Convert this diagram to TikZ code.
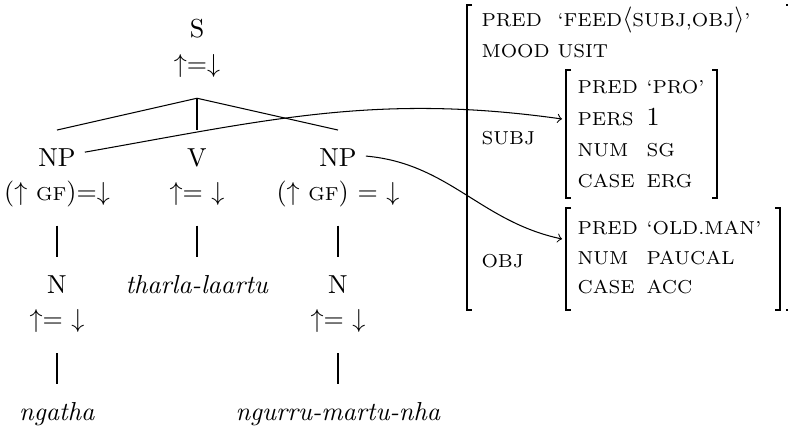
\documentclass[tikz,border=0pt]{standalone}
\usepackage{amsmath,amssymb}
\usepackage{tikz}

% small capitals for feature names and values
\newcommand{\fsc}[1]{{\fontsize{7.2pt}{9pt}\selectfont #1}}

\begin{document}
\begin{tikzpicture}[x=0.0135cm,y=-0.0135cm,>=to,
  tn/.style={anchor=base,inner xsep=3.33pt,inner ysep=7pt,text height=7pt,text depth=2.5pt},
  av/.style={anchor=base west,inner sep=0pt},
  brk/.style={line width=1pt}]
  \useasboundingbox (0,0) rectangle (788,433);
  \clip (0,0) rectangle (788,433);
  % Tree: root
  \node[tn] (s) at (197,38) {S};
  \node[tn] (sann) at (197,73) {$\uparrow$=$\downarrow$};
  \coordinate (br) at (sann.south);
  % Daughters of S
  \node[tn] (np1) at (57,167) {NP};
  \node[tn] (np1ann) at (57,200.5) {($\uparrow$ \fsc{GF})=$\downarrow$};
  \node[tn] (v) at (197,167) {V};
  \node[tn] (vann) at (197,200.5) {$\uparrow$= $\downarrow$};
  \node[tn] (np2) at (338,167) {NP};
  \node[tn] (np2ann) at (338,200.5) {($\uparrow$ \fsc{GF}) = $\downarrow$};
  \draw (br) -- (np1.north);
  \draw (br) -- (v.north);
  \draw (br) -- (np2.north);
  % Lower levels
  \node[tn] (n1) at (57,294) {N};
  \node[tn] (n1ann) at (57,328) {$\uparrow$= $\downarrow$};
  \node[tn] (w2) at (197,294) {\textit{tharla-laartu}};
  \node[tn] (n2) at (338,294) {N};
  \node[tn] (n2ann) at (338,328) {$\uparrow$= $\downarrow$};
  \node[tn] (w1) at (57,421) {\textit{ngatha}};
  \node[tn] (w3) at (338,421) {\textit{ngurru-martu-nha}};
  \draw (np1ann.south) -- (n1.north);
  \draw (vann.south) -- (w2.north);
  \draw (np2ann.south) -- (n2.north);
  \draw (n1ann.south) -- (w1.north);
  \draw (n2ann.south) -- (w3.north);
  % F-structure: outer matrix
  \draw[brk] (472,5) -- (467,5) -- (467,310) -- (472,310);
  \draw[brk] (786,5) -- (791,5) -- (791,310) -- (786,310);
  \node[av] (fpred) at (481,27) {\fsc{PRED}};
  \node[av] (fpredv) at (557,27) {\fsc{‘FEED}$\langle$\fsc{SUBJ,OBJ}$\rangle$\fsc{’}};
  \node[av] (fmood) at (481,58) {\fsc{MOOD}};
  \node[av] (fmoodv) at (557,58) {\fsc{USIT}};
  \node[av] (fsubj) at (481,145) {\fsc{SUBJ}};
  \node[av] (fobj) at (481,268) {\fsc{OBJ}};
  % SUBJ value
  \draw[brk] (571,70) -- (566,70) -- (566,198) -- (571,198);
  \draw[brk] (712,70) -- (717,70) -- (717,198) -- (712,198);
  \node[av] (spred) at (577,94) {\fsc{PRED}};
  \node[av] (spredv) at (646,94) {\fsc{‘PRO’}};
  \node[av] (spers) at (577,126) {\fsc{PERS}};
  \node[av] (spersv) at (646,126) {1};
  \node[av] (snum) at (577,157) {\fsc{NUM}};
  \node[av] (snumv) at (646,157) {\fsc{SG}};
  \node[av] (scase) at (577,188) {\fsc{CASE}};
  \node[av] (scasev) at (646,188) {\fsc{ERG}};
  \coordinate (subjin) at (562,119);
  % OBJ value
  \draw[brk] (571,208) -- (566,208) -- (566,310) -- (571,310);
  \draw[brk] (775,208) -- (780,208) -- (780,310) -- (775,310);
  \node[av] (opred) at (577,235) {\fsc{PRED}};
  \node[av] (opredv) at (646,235) {\fsc{‘OLD.MAN’}};
  \node[av] (onum) at (577,265) {\fsc{NUM}};
  \node[av] (onumv) at (646,265) {\fsc{PAUCAL}};
  \node[av] (ocase) at (577,294) {\fsc{CASE}};
  \node[av] (ocasev) at (646,294) {\fsc{ACC}};
  \coordinate (objin) at (562,239);
  % Projection arrows
  \draw[->] ([yshift=5.7pt]np1.base east) to[out=10,in=172] (subjin);
  \draw[->] ([yshift=4.2pt]np2.base east) to[out=-5,in=168] (objin);
\end{tikzpicture}
\end{document}
